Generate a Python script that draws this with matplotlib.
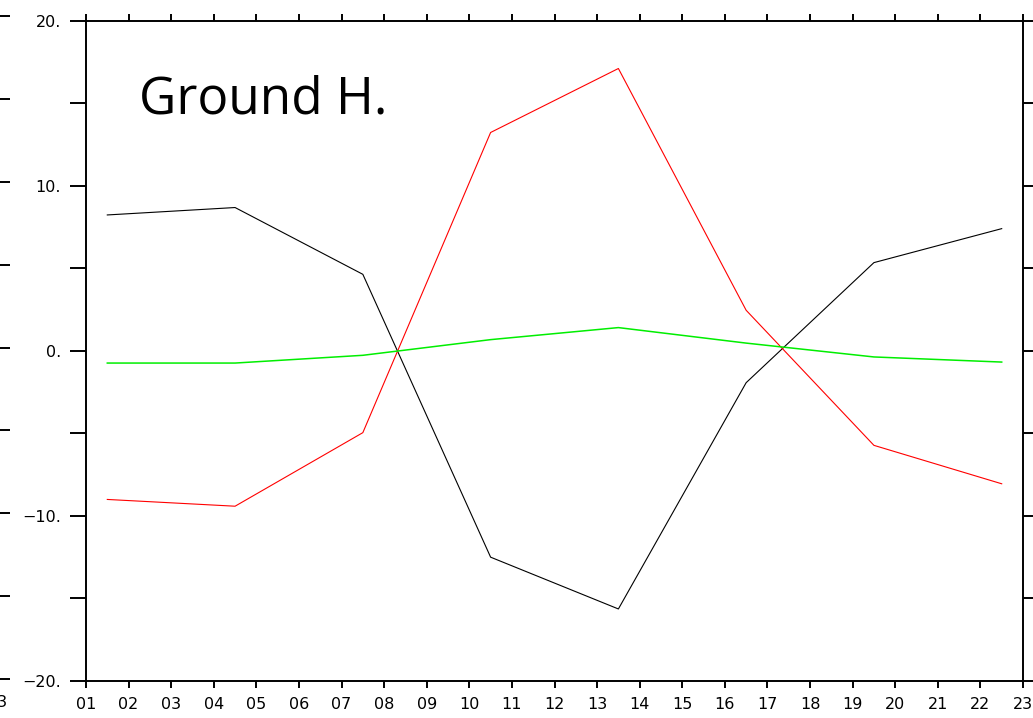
import matplotlib.pyplot as plt
from matplotlib.ticker import MultipleLocator, FixedLocator

# 3-hourly means, plotted at the middle of each 3 h window
hours = [1.5, 4.5, 7.5, 10.5, 13.5, 16.5, 19.5, 22.5]
black_vals = [8.24, 8.69, 4.64, -12.51, -15.65, -1.93, 5.35, 7.41]
red_vals = [-9.01, -9.42, -4.96, 13.24, 17.12, 2.46, -5.73, -8.06]
green_vals = [-0.74, -0.74, -0.27, 0.68, 1.41, 0.47, -0.37, -0.68]

x_ticks = list(range(1, 24))
x_labels = ['%02d' % h for h in x_ticks]
y_ticks = [-20, -10, 0, 10, 20]
y_labels = ['\u221220.', '\u221210.', '0.', '10.', '20.']

W, H = 1033, 718
PT = 0.72  # points per pixel at dpi 100
fig = plt.figure(figsize=(W / 100, H / 100), dpi=100)


def style_axes(ax, xlab, ylab):
    ax.set_xlim(1, 23)
    ax.set_ylim(-20, 20)
    ax.xaxis.set_major_locator(FixedLocator(x_ticks))
    ax.set_xticklabels(xlab)
    ax.yaxis.set_major_locator(FixedLocator(y_ticks))
    ax.yaxis.set_minor_locator(MultipleLocator(5))
    ax.set_yticklabels(ylab)
    for s in ax.spines.values():
        s.set_linewidth(1.4)
    ax.tick_params(axis='x', which='both', direction='out', length=7 * PT,
                   width=1.4, top=True, labelsize=11.5, pad=9 * PT)
    ax.tick_params(axis='y', which='both', direction='out', length=16 * PT,
                   width=1.4, right=True, labelsize=11.5, pad=9 * PT)


# piece of the neighbouring panel that was cut off at the left edge
ghost = fig.add_axes([(-2 - 937) / W, (H - 679) / H, 937 / W, (679 - 16) / H])
style_axes(ghost, [''] * 22 + ['23'], [''] * 5)
ghost.tick_params(axis='y', which='both', length=12 * PT)

# main panel
ax = fig.add_axes([86 / W, (H - 680.7) / H, 937 / W, (680.7 - 21) / H])
style_axes(ax, x_labels, y_labels)

ax.plot(hours, black_vals, color='black', lw=0.8)
ax.plot(hours, red_vals, color='#ff0000', lw=0.8)
ax.plot(hours, green_vals, color='#00ee00', lw=1.1)

fig.text(139 / W, (H - 113) / H, 'Ground H.', fontsize=37,
         family='Open Sans', ha='left', va='baseline')

fig.savefig('out.png', dpi=100)
